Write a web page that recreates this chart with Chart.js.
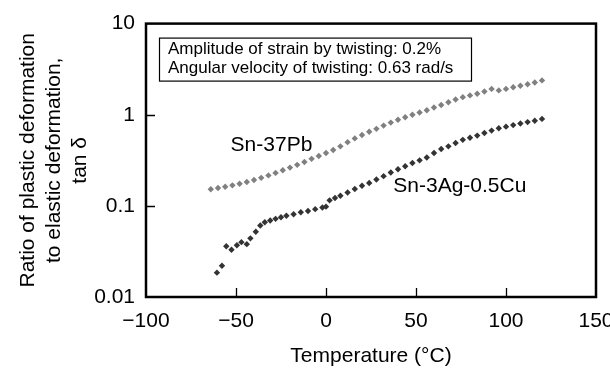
<!DOCTYPE html>
<html>
<head>
<meta charset="utf-8">
<title>tan delta vs temperature</title>
<script src="https://cdn.jsdelivr.net/npm/chart.js@4.4.0/dist/chart.umd.min.js"></script>
<style>
  html, body { margin: 0; padding: 0; background: #fff; }
  #wrap { width: 610px; height: 369px; }
</style>
</head>
<body>
<div id="wrap"><canvas id="chart"></canvas></div>
<script>
// Sn-37Pb (grey)
const pbTemps = [-64, -60, -56, -52, -48, -44, -40, -36, -32, -28, -24, -20, -16, -12, -8, -4,
                 0, 4, 8, 12, 16, 20, 24, 28, 32, 36, 40, 44, 48, 52, 56, 60, 64, 68, 72, 76,
                 80, 84, 88, 92, 96, 100, 104, 108, 112, 116, 120];
const pbTan = [0.152, 0.157, 0.162, 0.168, 0.175, 0.183, 0.192, 0.203, 0.216, 0.23, 0.246, 0.263, 0.282, 0.303, 0.328, 0.352,
               0.38, 0.41, 0.45, 0.5, 0.55, 0.6, 0.65, 0.7, 0.76, 0.82, 0.88, 0.94, 1.0, 1.06, 1.12, 1.2, 1.28, 1.37, 1.47, 1.56,
               1.63, 1.7, 1.8, 1.92, 1.85, 1.92, 2.0, 2.08, 2.16, 2.26, 2.38];

// Sn-3Ag-0.5Cu (dark)
const sacTemps = [-60.6, -57.8, -55.4, -52.5, -49.5, -47, -44, -42, -39, -36.5, -34, -31, -28, -25, -22, -18, -14, -10, -6, -2,
                  0, 2, 5, 8, 12, 16, 20, 24, 28, 32, 36, 40, 44, 48, 52, 56, 60, 64, 68, 72, 76,
                  80, 84, 88, 92, 96, 100, 104, 108, 112, 116, 120];
const sacTan = [0.0185, 0.022, 0.036, 0.033, 0.037, 0.04, 0.038, 0.044, 0.052, 0.061, 0.066, 0.069, 0.072, 0.075, 0.078, 0.081, 0.085, 0.088, 0.092, 0.096,
                0.098, 0.115, 0.122, 0.129, 0.14, 0.153, 0.166, 0.178, 0.195, 0.212, 0.232, 0.252, 0.272, 0.295, 0.316, 0.34, 0.38, 0.42, 0.45, 0.49, 0.53,
                0.56, 0.59, 0.63, 0.67, 0.71, 0.74, 0.77, 0.8, 0.83, 0.86, 0.9];

const xTicks = [-100, -50, 0, 50, 100, 150];
const yTicks = [0.01, 0.1, 1, 10];
const yTickLabels = ['0.01', '0.1', '1', '10'];

const noteLines = ['Amplitude of strain by twisting: 0.2%', 'Angular velocity of twisting: 0.63 rad/s'];
const seriesNames = ['Sn-37Pb', 'Sn-3Ag-0.5Cu'];
// where the series names sit, in data units (temperature, tan delta)
const nameAnchors = [[-53, 0.46], [37.4, 0.166]];

const FONT = '"Liberation Sans", Arial, Helvetica, sans-serif';

function toPoints(xs, ys) {
    const pts = [];
    for (let i = 0; i < xs.length; i++) {
        pts.push({x: xs[i], y: ys[i]});
    }
    return pts;
}

const decor = {
    id: 'decor',
    afterDraw(chart) {
        const ctx = chart.ctx;
        const area = chart.chartArea;
        const xs = chart.scales.x;
        const ys = chart.scales.y;
        ctx.save();

        // inward tick marks
        ctx.strokeStyle = '#000';
        ctx.lineWidth = 1.3;
        ctx.beginPath();
        xTicks.forEach(v => {
            if (v <= xs.min || v >= xs.max) return;
            const px = Math.round(xs.getPixelForValue(v)) + 0.5;
            ctx.moveTo(px, area.bottom);
            ctx.lineTo(px, area.bottom - 9);
        });
        yTicks.forEach(v => {
            if (v <= ys.min || v >= ys.max) return;
            const py = Math.round(ys.getPixelForValue(v)) + 0.5;
            ctx.moveTo(area.left, py);
            ctx.lineTo(area.left + 9, py);
        });
        ctx.stroke();

        // frame
        ctx.lineWidth = 2.5;
        ctx.strokeRect(area.left, area.top, area.right - area.left, area.bottom - area.top);

        // note box
        const bx = area.left + 13, by = area.top + 14;
        ctx.lineWidth = 1.2;
        ctx.strokeRect(bx + 0.5, by + 0.5, 312, 43);
        ctx.fillStyle = '#000';
        ctx.font = '17px ' + FONT;
        ctx.textBaseline = 'middle';
        ctx.textAlign = 'left';
        ctx.fillText(noteLines[0], bx + 9, by + 12);
        ctx.fillText(noteLines[1], bx + 9, by + 31);

        // series names
        ctx.font = '21px ' + FONT;
        seriesNames.forEach((name, i) => {
            const a = nameAnchors[i];
            ctx.fillText(name, xs.getPixelForValue(a[0]), ys.getPixelForValue(a[1]));
        });
        ctx.restore();
    }
};

const ctx = document.getElementById('chart').getContext('2d');
new Chart(ctx, {
    type: 'scatter',
    data: {
        datasets: [
            {
                label: seriesNames[0],
                data: toPoints(pbTemps, pbTan),
                pointStyle: 'rectRot',
                pointRadius: 3.2,
                backgroundColor: '#808080',
                borderColor: '#808080',
                borderWidth: 0
            },
            {
                label: seriesNames[1],
                data: toPoints(sacTemps, sacTan),
                pointStyle: 'rectRot',
                pointRadius: 3.2,
                backgroundColor: '#333333',
                borderColor: '#333333',
                borderWidth: 0
            }
        ]
    },
    options: {
        animation: false,
        responsive: true,
        maintainAspectRatio: false,
        layout: { padding: { top: 17, right: 14, left: 0, bottom: 0 } },
        plugins: { legend: { display: false }, tooltip: { enabled: false } },
        scales: {
            x: {
                type: 'linear',
                min: -100,
                max: 150,
                afterBuildTicks: scale => { scale.ticks = xTicks.map(v => ({value: v})); },
                afterFit: scale => { scale.height = 72; scale.paddingLeft = 0; scale.paddingRight = 0; },
                grid: { display: false, drawTicks: false },
                border: { display: false },
                ticks: {
                    color: '#000',
                    padding: 12,
                    maxRotation: 0,
                    autoSkip: false,
                    font: { family: FONT, size: 21 },
                    callback: v => (v < 0 ? '\u2212' + Math.abs(v) : String(v))
                },
                title: {
                    display: true,
                    text: 'Temperature (\u00B0C)',
                    color: '#000',
                    font: { family: FONT, size: 21 },
                    padding: { top: 0, bottom: 0 }
                }
            },
            y: {
                type: 'logarithmic',
                min: 0.01,
                max: 10,
                afterBuildTicks: scale => { scale.ticks = yTicks.map(v => ({value: v})); },
                afterFit: scale => { scale.width = 146; },
                grid: { display: false, drawTicks: false },
                border: { display: false },
                ticks: {
                    color: '#000',
                    padding: 11,
                    autoSkip: false,
                    font: { family: FONT, size: 21 },
                    callback: v => yTickLabels[yTicks.indexOf(v)]
                },
                title: {
                    display: true,
                    text: ['Ratio of plastic deformation', 'to elastic deformation,', 'tan \u03B4'],
                    color: '#000',
                    font: { family: FONT, size: 21, lineHeight: 1.25 },
                    padding: { top: 15, bottom: 0 }
                }
            }
        }
    },
    plugins: [decor]
});
</script>
</body>
</html>
